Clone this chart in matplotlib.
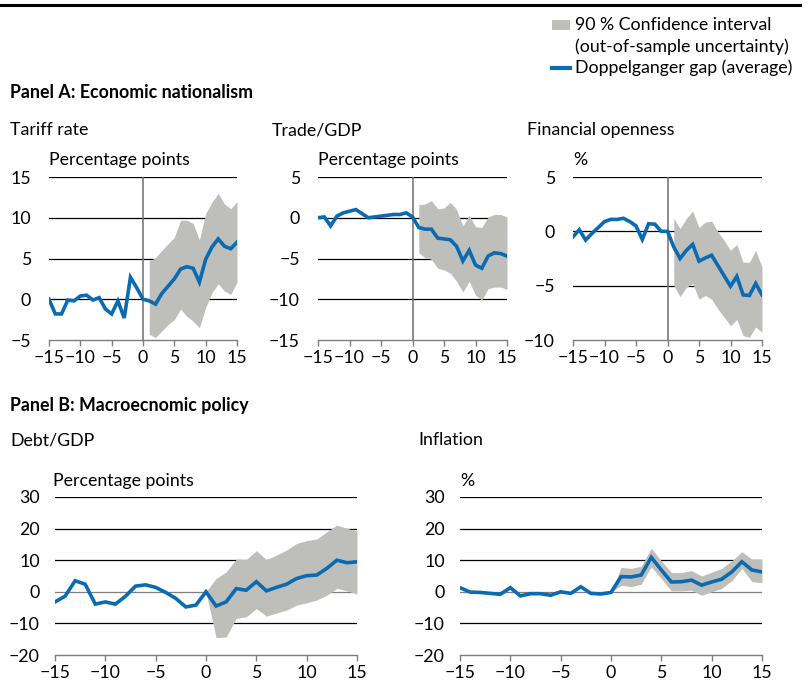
import matplotlib
matplotlib.use('Agg')
import matplotlib.pyplot as plt
import numpy as np
from matplotlib.patches import Rectangle
from matplotlib.lines import Line2D

plt.rcParams['font.family'] = ['Lato', 'DejaVu Sans']

# ---------------- data ----------------
years = list(range(-15, 16))
band_years_a = list(range(1, 16))
band_years_b = list(range(0, 16))

tariff = [0, -1.8, -1.8, -0.1, -0.2, 0.4, 0.5, -0.1, 0.2, -1.2, -1.8, -0.2, -2.3, 2.7, 1.4,
          0, -0.2, -0.6, 0.7, 1.6, 2.5, 3.7, 4.0, 3.8, 2.1, 4.9, 6.4, 7.4, 6.5, 6.2, 7.0]
tariff_hi = [4.7, 5.1, 6.0, 6.8, 7.6, 9.7, 9.7, 9.3, 7.3, 10.5, 11.9, 13.0, 11.7, 11.1, 12.0]
tariff_lo = [-4.3, -4.7, -3.9, -3.1, -2.5, -1.2, -2.1, -2.7, -3.5, -1.0, 0.8, 1.9, 1.0, 0.6, 2.1]

trade = [0, 0.1, -1.0, 0.2, 0.6, 0.8, 1.0, 0.5, 0, 0.1, 0.2, 0.3, 0.4, 0.4, 0.6,
         0.1, -1.2, -1.4, -1.4, -2.5, -2.6, -2.7, -3.5, -5.3, -4.0, -5.8, -6.2, -4.7, -4.3, -4.4, -4.7]
trade_hi = [1.6, 1.7, 2.1, 1.1, 1.2, 1.9, 1.0, -1.0, 0.3, -1.1, -1.2, 0.1, 0.4, 0.4, 0.1]
trade_lo = [-4.3, -4.9, -5.1, -6.2, -6.4, -6.8, -7.8, -9.1, -7.8, -9.5, -10.1, -8.7, -8.5, -8.5, -8.8]

finance = [-0.5, 0.15, -0.8, -0.2, 0.35, 0.9, 1.1, 1.1, 1.2, 0.9, 0.5, -0.75, 0.7, 0.65, 0,
           0, -1.45, -2.5, -1.75, -1.2, -2.75, -2.45, -2.2, -3.15, -4.1, -5.05, -4.15, -5.85, -5.9, -4.8, -5.85]
finance_hi = [1.2, 0.25, 1.2, 1.85, 0.35, 0.85, 0.95, -0.05, -0.85, -1.75, -1.2, -2.85, -2.85, -1.75, -3.3]
finance_lo = [-5.0, -6.0, -5.15, -4.8, -6.25, -5.9, -6.25, -7.15, -7.9, -8.7, -8.1, -9.6, -9.75, -8.8, -9.3]

debt = [-3.2, -1.4, 3.5, 2.4, -3.9, -3.2, -3.9, -1.4, 1.8, 2.2, 1.4, -0.2, -2.1, -4.8, -4.2,
        0, -4.5, -3.2, 1.0, 0.5, 3.2, 0.3, 1.4, 2.4, 4.2, 5.1, 5.3, 7.4, 10.0, 9.2, 9.5]
debt_hi = [0, 4.2, 6.3, 10.3, 10.2, 13.0, 10.2, 11.6, 13.2, 15.3, 16.2, 16.7, 19.0, 21.1, 20.1, 19.2]
debt_lo = [0, -14.5, -14.3, -8.4, -7.9, -5.3, -7.7, -6.7, -5.8, -4.2, -3.5, -2.6, -1.1, 1.1, 0.3, -0.7]

inflation = [1.3, -0.1, -0.2, -0.5, -0.8, 1.3, -1.3, -0.6, -0.6, -1.1, 0, -0.5, 1.6, -0.5, -0.7,
             -0.2, 4.8, 4.7, 5.3, 10.9, 6.9, 3.1, 3.2, 3.7, 2.1, 3.1, 4.0, 6.3, 9.5, 6.9, 6.3]
inflation_hi = [-0.2, 7.7, 7.4, 8.1, 13.8, 9.8, 6.1, 6.1, 6.7, 5.0, 6.2, 7.4, 9.8, 12.7, 10.3, 10.3]
inflation_lo = [-0.2, 2.1, 1.6, 2.4, 7.9, 4.2, 0.3, 0.3, 0.5, -1.1, 0, 1.1, 3.5, 7.4, 3.2, 2.9]

xticks = [-15, -10, -5, 0, 5, 10, 15]

BLUE = '#0A6BB2'
BAND = '#BEBEBA'
AXGRAY = '#7F7F7F'
FS = 12.8

W, H = 808, 689
fig = plt.figure(figsize=(W / 100, H / 100), dpi=100)


def ax_at(x0, x1, ytop, ybot):
    return fig.add_axes([x0 / W, 1 - ybot / H, (x1 - x0) / W, (ybot - ytop) / H])


def ftext(x, y, s, **kw):
    kw.setdefault('fontsize', FS)
    fig.text(x / W, 1 - y / H, s, va='center', ha='left', **kw)


def panel(ax, y, bx, lo, hi, yticks, vline, zero_gray, ypad):
    ax.set_xlim(-15, 15)
    ax.set_ylim(yticks[0], yticks[-1])
    ax.set_xticks(xticks)
    ax.set_yticks(yticks)
    for s in ['top', 'right', 'left']:
        ax.spines[s].set_visible(False)
    ax.spines['bottom'].set_color(AXGRAY)
    ax.spines['bottom'].set_linewidth(1.0)
    ax.tick_params(axis='y', length=0, pad=ypad, labelsize=FS)
    ax.tick_params(axis='x', length=4, width=1, color=AXGRAY, direction='out', pad=3, labelsize=FS)
    for yt in yticks[1:]:
        col = AXGRAY if (zero_gray and yt == 0) else 'black'
        ax.axhline(yt, color=col, lw=0.9, zorder=0)
    if vline:
        ax.axvline(0, color='#6E6E6E', lw=1.1, zorder=0.5)
    ax.fill_between(bx, lo, hi, color=BAND, lw=0, zorder=1)
    ax.plot(years, y, color=BLUE, lw=2.6, zorder=3, solid_joinstyle='miter')
    ax.patch.set_alpha(0)


# top rule
fig.add_artist(Line2D([0, 800 / W], [1 - 5 / H, 1 - 5 / H], color='black', lw=2.2))

# legend (drawn manually)
fig.add_artist(Rectangle((552 / W, 1 - 30 / H), 18 / W, 10 / H, color=BAND, lw=0))
fig.add_artist(Line2D([552 / W, 570 / W], [1 - 68 / H, 1 - 68 / H], color=BLUE, lw=3))
ftext(575, 25, '90 % Confidence interval')
ftext(575, 47, '(out-of-sample uncertainty)')
ftext(575, 68, 'Doppelganger gap (average)')

# panel titles
ftext(10, 92, 'Panel A: Economic nationalism', fontweight='bold')
ftext(10, 405, 'Panel B: Macroecnomic policy', fontweight='bold')

# Panel A
ftext(10, 130, 'Tariff rate')
ftext(272, 130, 'Trade/GDP')
ftext(527, 130, 'Financial openness')
ftext(49, 160, 'Percentage points')
ftext(318, 160, 'Percentage points')
ftext(573, 160, '%')

ax1 = ax_at(49, 237, 177, 340)
panel(ax1, tariff, band_years_a, tariff_lo, tariff_hi, [-5, 0, 5, 10, 15], True, False, 13)
ax2 = ax_at(318, 507, 177, 340)
panel(ax2, trade, band_years_a, trade_lo, trade_hi, [-15, -10, -5, 0, 5], True, False, 13)
ax3 = ax_at(573, 762, 177, 340)
panel(ax3, finance, band_years_a, finance_lo, finance_hi, [-10, -5, 0, 5], True, False, 13)

# Panel B
ftext(10, 440, 'Debt/GDP')
ftext(418, 440, 'Inflation')
ftext(53, 481, 'Percentage points')
ftext(460, 481, '%')

ax4 = ax_at(55, 357, 497, 655)
panel(ax4, debt, band_years_b, debt_lo, debt_hi, [-20, -10, 0, 10, 20, 30], False, True, 11)
ax5 = ax_at(460, 762, 497, 655)
panel(ax5, inflation, band_years_b, inflation_lo, inflation_hi, [-20, -10, 0, 10, 20, 30], False, True, 11)

fig.savefig('out.png', dpi=100)
